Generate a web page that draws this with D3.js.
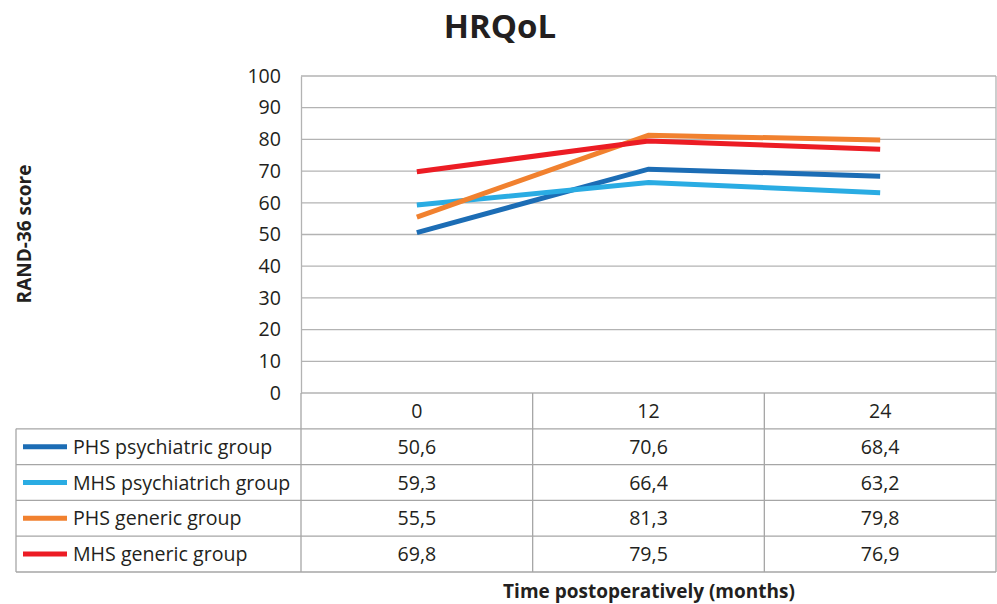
<!DOCTYPE html>
<html>
<head>
<meta charset="utf-8">
<script src="https://cdn.jsdelivr.net/npm/d3@7"></script>
<style>
body { margin: 0; background: #fff; }
text { font-family: "Open Sans", sans-serif; fill: #231f20; }
</style>
</head>
<body>
<script>
var categories = ["0", "12", "24"];
var seriesNames = ["PHS psychiatric group", "MHS psychiatrich group", "PHS generic group", "MHS generic group"];
var phsPsych = [50.6, 70.6, 68.4];
var mhsPsych = [59.3, 66.4, 63.2];
var phsGeneric = [55.5, 81.3, 79.8];
var mhsGeneric = [69.8, 79.5, 76.9];
var colors = ["#1c6db5", "#2aace3", "#f1812f", "#ec1c24"];
var yTicks = [0, 10, 20, 30, 40, 50, 60, 70, 80, 90, 100];

var series = [phsPsych, mhsPsych, phsGeneric, mhsGeneric];

var W = 997, H = 604;
var plotL = 301, plotR = 996, plotT = 76, plotB = 393;
var rowH = 35.8, tableLeft = 16;
var fs = "19.6px";

var svg = d3.select("body").append("svg").attr("width", W).attr("height", H);

var x = d3.scaleBand().domain(categories).range([plotL, plotR]);
var y = d3.scaleLinear().domain([0, 100]).range([plotB, plotT]);

// gridlines
svg.selectAll("line.grid")
      .data(yTicks)
      .enter().append("line")
                .attr("class", "grid")
                .attr("x1", plotL).attr("x2", plotR)
                .attr("y1", function(d){ return y(d); })
                .attr("y2", function(d){ return y(d); })
                .attr("stroke", "#b3b3b3").attr("stroke-width", 1.3);

// y axis
var yAxis = svg.append("g")
      .attr("transform", "translate(" + plotL + ",0)")
      .call(d3.axisLeft(y).tickValues(yTicks).tickSize(0).tickPadding(20));
yAxis.select(".domain").attr("stroke", "#b3b3b3").attr("stroke-width", 1.3);
yAxis.selectAll("text").style("font-family", "'Open Sans', sans-serif").style("font-size", fs).attr("fill", "#231f20");

svg.append("line")
      .attr("x1", plotR).attr("x2", plotR).attr("y1", plotT).attr("y2", plotB)
      .attr("stroke", "#b3b3b3").attr("stroke-width", 1.3);

// lines
var line = d3.line()
      .x(function(d, i){ return x(categories[i]) + x.bandwidth() / 2; })
      .y(function(d){ return y(d); });

svg.selectAll("path.series")
      .data(series)
      .enter().append("path")
                .attr("class", "series")
                .attr("d", line)
                .attr("fill", "none")
                .attr("stroke", function(d, i){ return colors[i]; })
                .attr("stroke-width", 5);

// data table
var grid = "#a6a6a6";
var tb = svg.append("g");
categories.forEach(function(c){
  tb.append("line")
      .attr("x1", x(c) + x.bandwidth()).attr("x2", x(c) + x.bandwidth())
      .attr("y1", plotB).attr("y2", plotB + rowH * 5)
      .attr("stroke", grid).attr("stroke-width", 1.3);
});
tb.append("line").attr("x1", plotL).attr("x2", plotL).attr("y1", plotB).attr("y2", plotB + rowH * 5)
      .attr("stroke", grid).attr("stroke-width", 1.3);
tb.append("line").attr("x1", tableLeft).attr("x2", tableLeft).attr("y1", plotB + rowH).attr("y2", plotB + rowH * 5)
      .attr("stroke", grid).attr("stroke-width", 1.3);
d3.range(1, 6).forEach(function(r){
  tb.append("line").attr("x1", tableLeft).attr("x2", plotR)
      .attr("y1", plotB + rowH * r).attr("y2", plotB + rowH * r)
      .attr("stroke", grid).attr("stroke-width", 1.3);
});

tb.selectAll("text.cat")
      .data(categories)
      .enter().append("text")
                .attr("class", "cat")
                .attr("x", function(d){ return x(d) + x.bandwidth() / 2; })
                .attr("y", plotB + rowH / 2 + 7)
                .attr("text-anchor", "middle")
                .style("font-size", fs)
                .text(function(d){ return d; });

seriesNames.forEach(function(name, i){
  var cy = plotB + rowH * (i + 1.5);
  tb.append("line").attr("x1", 23).attr("x2", 67).attr("y1", cy).attr("y2", cy)
      .attr("stroke", colors[i]).attr("stroke-width", 5);
  tb.append("text").attr("x", 73).attr("y", cy + 7)
      .style("font-size", fs).text(name);
  tb.selectAll("text.v" + i)
      .data(series[i])
      .enter().append("text")
                .attr("x", function(d, j){ return x(categories[j]) + x.bandwidth() / 2; })
                .attr("y", cy + 7)
                .attr("text-anchor", "middle")
                .style("font-size", fs)
                .text(function(d){ return d.toFixed(1).replace(".", ","); });
});

// titles
svg.append("text").attr("x", 500).attr("y", 38).attr("text-anchor", "middle")
      .style("font-size", "33px").style("font-weight", "bold").text("HRQoL");
svg.append("text").attr("transform", "translate(31,234) rotate(-90)").attr("text-anchor", "middle")
      .style("font-size", "19px").style("font-weight", "bold").text("RAND-36 score");
svg.append("text").attr("x", 649).attr("y", 598).attr("text-anchor", "middle")
      .style("font-size", "19px").style("font-weight", "bold").text("Time postoperatively (months)");
</script>
</body>
</html>
